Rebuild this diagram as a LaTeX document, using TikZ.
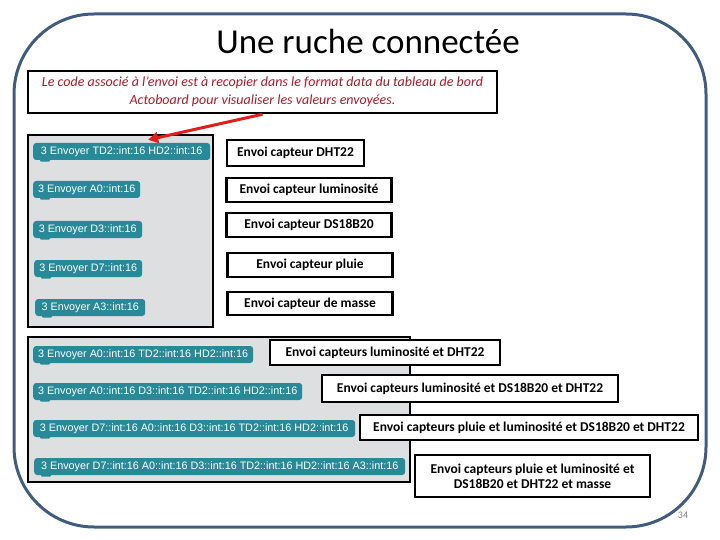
\documentclass[tikz,border=0pt]{standalone}
\usepackage{fontspec}
\setmainfont{Carlito}
\newfontfamily\blkfont{Liberation Sans}
\usetikzlibrary{arrows.meta}
\definecolor{framecol}{RGB}{66,92,128}
\definecolor{notered}{RGB}{172,26,40}
\definecolor{arrowred}{RGB}{228,28,28}
\definecolor{blockteal}{RGB}{40,138,152}
\definecolor{panelgrey}{RGB}{221,223,224}
\begin{document}
\begin{tikzpicture}[x=1pt,y=-1pt,
  lbl/.style={draw, line width=2.5pt, fill=white, inner sep=2pt, font=\bfseries\fontsize{13.5}{15}\selectfont},
  blk/.style={fill=blockteal, text=white, rounded corners=3pt, minimum height=17pt, inner sep=0pt, anchor=west, font=\blkfont\fontsize{10.8}{12}\selectfont},
  panel/.style={draw, line width=2.5pt, fill=panelgrey}]
\useasboundingbox (0,0) rectangle (720,540);
\draw[framecol, line width=3pt, rounded corners=80pt] (14,14) rectangle (706,527);
\node[font=\fontsize{35}{40}\selectfont] (title) at (368,41) {Une ruche connectée};
\node[draw, line width=2.5pt, minimum width=469pt, minimum height=42pt, align=center, text=notered, font=\itshape\fontsize{14}{18}\selectfont] (note) at (262.5,92) {Le code associé à l'envoi est à recopier dans le format data du tableau de bord\\Actoboard pour visualiser les valeurs envoyées.};
\draw[panel] (28,135) rectangle (213,327);
\draw[panel] (28,337) rectangle (410,482);
\node[blk, minimum width=177pt] (blkA) at (33,151.5) {3 Envoyer TD2::int:16 HD2::int:16};
\node[blk, minimum width=107pt] (blkB) at (33,189.5) {3 Envoyer A0::int:16};
\node[blk, minimum width=109pt] (blkC) at (33,229.5) {3 Envoyer D3::int:16};
\node[blk, minimum width=108pt] (blkD) at (34,268.5) {3 Envoyer D7::int:16};
\node[blk, minimum width=110pt] (blkE) at (35,307.5) {3 Envoyer A3::int:16};
\node[blk, minimum width=220pt] (blkF) at (33,354.5) {3 Envoyer A0::int:16 TD2::int:16 HD2::int:16};
\node[blk, minimum width=269pt] (blkG) at (33,391.5) {3 Envoyer A0::int:16 D3::int:16 TD2::int:16 HD2::int:16};
\node[blk, minimum width=322pt] (blkH) at (33,428.5) {3 Envoyer D7::int:16 A0::int:16 D3::int:16 TD2::int:16 HD2::int:16};
\node[blk, minimum width=371pt] (blkI) at (34,466.5) {3 Envoyer D7::int:16 A0::int:16 D3::int:16 TD2::int:16 HD2::int:16 A3::int:16};
\foreach \b in {blkA,blkB,blkC,blkD,blkE,blkF,blkG,blkH,blkI}
  \fill[blockteal, rounded corners=1pt] ([xshift=7pt,yshift=1pt]\b.south west) rectangle ++(10,2.5);
\node[lbl, minimum width=137pt, minimum height=26pt] (capA) at (295.5,153) {Envoi capteur DHT22};
\node[lbl, minimum width=165pt, minimum height=24pt] (capB) at (309,190) {Envoi capteur luminosité};
\node[lbl, minimum width=165pt, minimum height=24pt] (capC) at (309,225) {Envoi capteur DS18B20};
\node[lbl, minimum width=165pt, minimum height=24pt] (capD) at (310,265) {Envoi capteur pluie};
\node[lbl, minimum width=165pt, minimum height=23pt] (capE) at (310,303.5) {Envoi capteur de masse};
\node[lbl, minimum width=230pt, minimum height=25pt] (capF) at (385,352.5) {Envoi capteurs luminosité et DHT22};
\node[lbl, minimum width=296pt, minimum height=27pt] (capG) at (470,388.5) {Envoi capteurs luminosité et DS18B20 et DHT22};
\node[lbl, minimum width=338pt, minimum height=25pt] (capH) at (529,427.5) {Envoi capteurs pluie et luminosité et DS18B20 et DHT22};
\node[lbl, minimum width=235pt, minimum height=42pt, align=center] (capI) at (532.5,476) {Envoi capteurs pluie et luminosité et\\DS18B20 et DHT22 et masse};
\draw[arrowred, line width=3pt, -{Triangle[length=10pt,width=11pt]}] (note.south) -- ([xshift=26.5pt,yshift=3pt]blkA.north);
\node[text=gray, font=\fontsize{10}{12}\selectfont] (pnum) at (683,515) {34};
\end{tikzpicture}
\end{document}
